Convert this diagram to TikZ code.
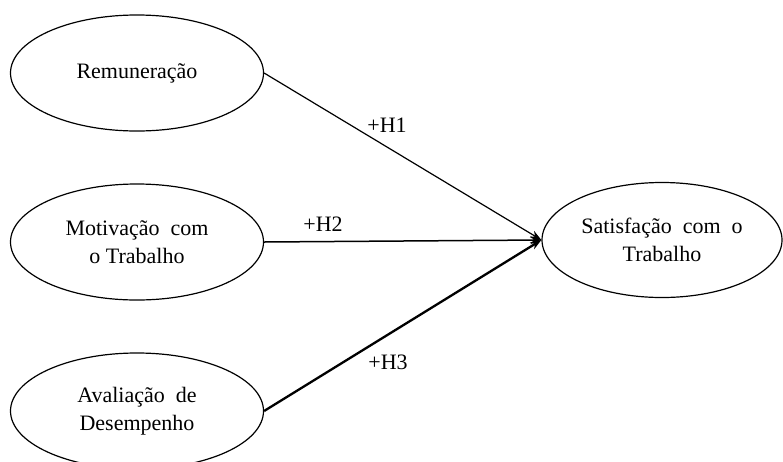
\documentclass[tikz,border=0pt]{standalone}
\usepackage{fontspec}
\setmainfont{Liberation Serif}
\usepackage{tikz}
\usetikzlibrary{arrows.meta,shapes.geometric,positioning,calc}
\tikzset{
	construct/.style={
		ellipse,
		draw=black, line width=1.2pt,
		minimum width=253pt,
		minimum height=116pt,
		inner sep=0pt,
		align=center,
		font=\fontsize{22}{28}\selectfont,
	},
	hyp/.style={
		font=\fontsize{22}{25}\selectfont,
		inner sep=0pt,
	},
}

\begin{document}
\begin{tikzpicture}[x=1pt,y=-1pt,>={Stealth[length=11pt,width=8pt]}]

	% fix the frame of the picture
	\useasboundingbox (0,0) rectangle (783,461);
	\clip (0,0) rectangle (783,461);

	% independent constructs on the left
	\node[construct] (REM) at (137,73) {Remuneração};
	\node[construct] (MOT) at (137,242) {Motivação\ \ com\\o Trabalho};
	\node[construct] (AVA) at (137,411) {Avaliação\ \ de\\Desempenho};

	% dependent construct on the right
	\node[construct,minimum width=240pt,minimum height=115pt] (SAT) at (662,240)
		{Satisfação\ \ com\ \ o\\Trabalho};

	% hypotheses
	\draw[->,line width=1.2pt] (REM.east) -- (SAT.west);
	\draw[->,line width=1.5pt] (MOT.east) -- (SAT.west);
	\draw[->,line width=2.3pt] (AVA.east) -- (SAT.west);

	% labels of the paths
	\node[hyp] (H1) at (387,125) {+H1};
	\node[hyp] (H2) at (323,224) {+H2};
	\node[hyp] (H3) at (388,362) {+H3};

\end{tikzpicture}
\end{document}
